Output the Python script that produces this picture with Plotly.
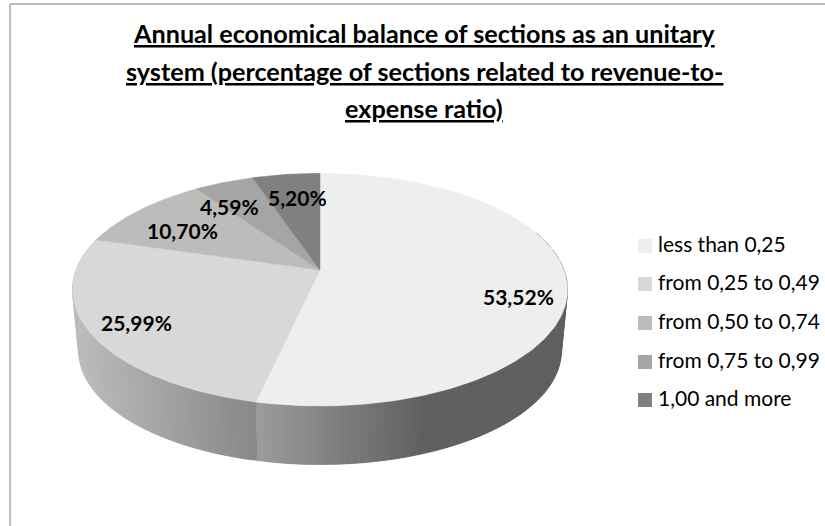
import numpy as np
import plotly.graph_objects as go

# ---------- data ----------
categories = ["less than 0,25", "from 0,25 to 0,49", "from 0,50 to 0,74", "from 0,75 to 0,99", "1,00 and more"]
values = [53.52, 25.99, 10.70, 4.59, 5.20]
value_labels = ["53,52%", "25,99%", "10,70%", "4,59%", "5,20%"]
title_lines = [
    "Annual economical balance of sections as an unitary",
    "system (percentage of sections related to revenue-to-",
    "expense ratio)",
]

# ---------- style ----------
colors = ["#eeeeee", "#d8d8d8", "#bcbcbc", "#a5a5a5", "#808080"]
FONT = "Lato"
W, H = 825, 526
CX, CY = 320, 270      # apex of the pie on screen
R, S, K = 244, 113, 0.169  # radii and perspective strength
DROP, SCALE = 62, 0.975    # lower rim of the extruded pie
label_xy = [(518, 296), (136, 322), (182, 230), (229, 206), (297, 197)]
title_y = [33, 71, 108]
legend_x = 645
legend_text_x = 658
legend_y = [246, 284, 323, 362, 400]


def rim(theta_deg, lower=False):
    t = np.radians(theta_deg)
    u, v = np.sin(t), -np.cos(t)
    d = 1 - K * v
    s, dy = (SCALE, DROP) if lower else (1.0, 0.0)
    return CX + s * R * u / d, CY + dy + s * S * v / d


def side_gray(x, idx):
    if idx == 0:
        f = np.clip((x - 256) / (425 - 256), 0, 1)
        g = 0x9c + f * (0x60 - 0x9c)
    else:
        f = np.clip((x - 75) / (256 - 75), 0, 1)
        g = 0xbc + f * (0x88 - 0xbc)
    g = int(round(g))
    return f"rgb({g},{g},{g})"


fig = go.Figure()
edges = np.concatenate([[0], np.cumsum(values)]) / np.sum(values) * 360

# side wall: narrow overlapping strips, only the two front slices are visible
for idx, (start, end) in enumerate([(70, edges[1]), (edges[1], 290)]):
    grid = np.linspace(start, end, int((end - start) / 1.5) + 2)
    if idx == 0:
        grid = grid[::-1]          # paint towards the seam from the right
    for i in range(len(grid) - 1):
        t0 = grid[i]
        t2 = grid[min(i + 2, len(grid) - 1)]
        arc = np.linspace(t0, t2, 5)
        xa, ya = rim(arc)
        xb, yb = rim(arc[::-1], True)
        c = side_gray((rim(t0)[0] + rim(grid[i + 1])[0]) / 2, idx)
        fig.add_trace(go.Scatter(
            x=np.r_[xa, xb, xa[0]], y=np.r_[ya, yb, ya[0]],
            mode="lines", fill="toself", fillcolor=c,
            line=dict(color=c, width=0.3),
            showlegend=False, hoverinfo="skip"))

# top face
for idx, (name, col) in enumerate(zip(categories, colors)):
    th = np.linspace(edges[idx], edges[idx + 1], max(3, int(edges[idx + 1] - edges[idx]) + 2))
    xs, ys = rim(th)
    fig.add_trace(go.Scatter(
        x=np.r_[CX, xs, CX], y=np.r_[CY, ys, CY],
        mode="lines", fill="toself", fillcolor=col,
        line=dict(color=col, width=0.5),
        name=name, text=value_labels[idx], hoverinfo="name+text",
        showlegend=False))

# key at the right: swatches and category text
fig.add_trace(go.Scatter(
    x=[legend_x] * len(categories), y=legend_y, mode="markers",
    marker=dict(symbol="square", size=14, color=colors),
    showlegend=False, hoverinfo="skip", cliponaxis=False))
fig.add_trace(go.Scatter(
    x=[legend_text_x] * len(categories), y=[v + 1 for v in legend_y], mode="text",
    text=categories, textposition="middle right",
    textfont=dict(family=FONT, size=21, color="#000000"),
    showlegend=False, hoverinfo="skip", cliponaxis=False))

annotations = []
for txt, (x, y) in zip(value_labels, label_xy):
    annotations.append(dict(x=x, y=y, text=f"<b>{txt}</b>", showarrow=False,
                            xref="x", yref="y",
                            font=dict(family=FONT, size=21, color="#000000")))
for line, y in zip(title_lines, title_y):
    annotations.append(dict(x=424, y=y, text=f"<b><u>{line}</u></b>", showarrow=False,
                            xref="x", yref="y",
                            font=dict(family=FONT, size=25.2, color="#000000")))

fig.update_layout(
    width=W, height=H, autosize=False,
    margin=dict(l=0, r=0, t=0, b=0),
    paper_bgcolor="#ffffff", plot_bgcolor="#ffffff",
    xaxis=dict(range=[0, W], visible=False, fixedrange=True),
    yaxis=dict(range=[H, 0], visible=False, fixedrange=True),
    annotations=annotations,
    font=dict(family=FONT),
    showlegend=False,
    shapes=[
        dict(type="line", x0=10, x1=W, y0=4, y1=4, xref="x", yref="y",
             line=dict(color="#a6a6a6", width=1.5)),
        dict(type="line", x0=10, x1=10, y0=4, y1=H, xref="x", yref="y",
             line=dict(color="#a6a6a6", width=1.5)),
    ],
)
fig.write_html("out.html", config={"displayModeBar": False},
               post_script="document.body.style.margin='0';document.documentElement.style.overflow='hidden';")
